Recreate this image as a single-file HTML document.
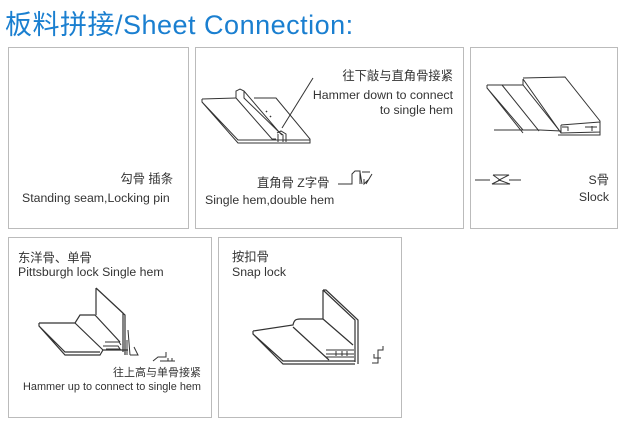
<!DOCTYPE html>
<html><head><meta charset="utf-8"><style>
body{margin:0;width:621px;height:438px;background:#fff;overflow:hidden;position:relative;font-family:"Liberation Sans","Noto Sans CJK SC",sans-serif;color:#333}
.t{position:absolute;white-space:nowrap;font-size:12.3px;line-height:14px}
.r{text-align:right}
.box{position:absolute;border:1px solid #bbb;box-sizing:border-box}
h1{position:absolute;left:5px;top:3px;margin:0;font-weight:normal;font-size:27px;color:#1a7fd0;letter-spacing:0.5px}
</style></head><body>
<h1>板料拼接/Sheet Connection:</h1>
<div class="box" style="left:8px;top:47px;width:181px;height:182px"></div>
<div class="box" style="left:195px;top:47px;width:269px;height:182px"></div>
<div class="box" style="left:470px;top:47px;width:148px;height:182px"></div>
<div class="box" style="left:8px;top:237px;width:204px;height:181px"></div>
<div class="box" style="left:218px;top:237px;width:184px;height:181px"></div>

<div class="t r" style="right:448px;top:172px">勾骨 插条</div>
<div class="t" style="left:22px;top:191px">Standing seam,Locking pin</div>

<div class="t r" style="right:168px;top:69px">往下敲与直角骨接紧</div>
<div class="t r" style="right:168px;top:88px">Hammer down to connect</div>
<div class="t r" style="right:168px;top:103px">to single hem</div>
<div class="t" style="left:257px;top:176px">直角骨 Z字骨</div>
<div class="t" style="left:205px;top:193px">Single hem,double hem</div>

<div class="t r" style="right:12px;top:173px">S骨</div>
<div class="t r" style="right:12px;top:190px">Slock</div>

<div class="t" style="left:18px;top:251px">东洋骨、单骨</div>
<div class="t" style="left:18px;top:265px">Pittsburgh lock Single hem</div>
<div class="t r" style="right:420px;top:366px;font-size:11px">往上高与单骨接紧</div>
<div class="t r" style="right:420px;top:380px;font-size:10.9px">Hammer up to connect to single hem</div>

<div class="t" style="left:232px;top:250px">按扣骨</div>
<div class="t" style="left:232px;top:265px">Snap lock</div>

<svg width="621" height="438" style="position:absolute;left:0;top:0" fill="none" stroke="#333" stroke-width="1">
<path d="M202,99 L236,98 M202,99 L202,102 L238,143 L310,143 L310,139 L276,98 L254,98 M202,102 L238,140 L310,140"/>
<path d="M236,98 L236,91 L240,89 L244,91 L279,132 L283,135 L283,142 M236,98 L272,139 L276,139 M244,91 L244,98 L282,135"/>
<path d="M277,133 L281,131 L286,134 L286,142 M278,134 L278,142"/>
<path d="M313,78 L282,128" />
<path d="M266,111 L267,112 M270,116 L271,117" stroke-width="1.5"/>
<path d="M338,184 L352,184 L352,174 L355,171 L360,171 L360,184 M362,172 L370,172 M372,174 L366,184 M368,180 L364,184 L364,179 M360,172 L362,184" />
<path d="M487,85 L523,85 L559,130 M487,85 L487,88 L523,133 M502,85 L539,131 M487,88 L523,130"/>
<path d="M523,78 L565,77 L600,121 L600,132 L561,133 L523,79 M523,79 L523,85 M561,125 L600,122 M561,125 L561,133"/>
<path d="M494,130 L540,130 L561,131 M558,135 L600,135 L600,130"/>
<path d="M562,127 L568,127 L568,131 M585,127 L597,127 M592,126 L592,131"/>
<path d="M475,180 L490,180 M493,175 L509,175 L499,180 L510,184 L492,184 L500,180 L493,175 M509,180 L521,180"/>
<path d="M39,323 L75,323 L80,315 L95,315 M39,323 L39,326 L65,355 L100,355 L103,350 L128,350 M39,326 L65,352 L100,352" stroke-width="1.2"/>
<path d="M75,323 L103,350 M96,288 L96,315 M96,288 L123,313 L123,352 M96,288 L98,290 L125,315 L125,355 M95,315 L120,342" stroke-width="1.2"/>
<path d="M103,346 L118,346 L120,349 L106,349 M105,342 L119,342 L121,345" />
<path d="M128,330 L130,355 M130,355 L138,355 L134,347 M127,355 L127,340"/>
<path d="M153,361 L158,357 L166,357 L166,352 M160,361 L175,361 M168,358 L168,361 M172,358 L172,361"/>
<path d="M253,331 L293,325 C294,320 296,319 300,319 L323,319 M253,331 L253,334 L283,364 L355,364 M253,334 L283,361 L355,361" stroke-width="1.2"/>
<path d="M293,327 L329,360 M323,290 L323,319 M323,290 L355,320 L355,362 M323,290 L326,290 L358,320 L358,364 M323,319 L353,345" stroke-width="1.2"/>
<path d="M326,350 L354,350 M326,354 L354,354 M326,357 L354,357 M336,351 L336,356 M342,351 L342,356 M347,351 L347,356"/>
<path d="M372,363 L378,363 L378,350 L383,350 L383,346 M374,354 L374,358 L381,358"/>
</svg>
</body></html>
